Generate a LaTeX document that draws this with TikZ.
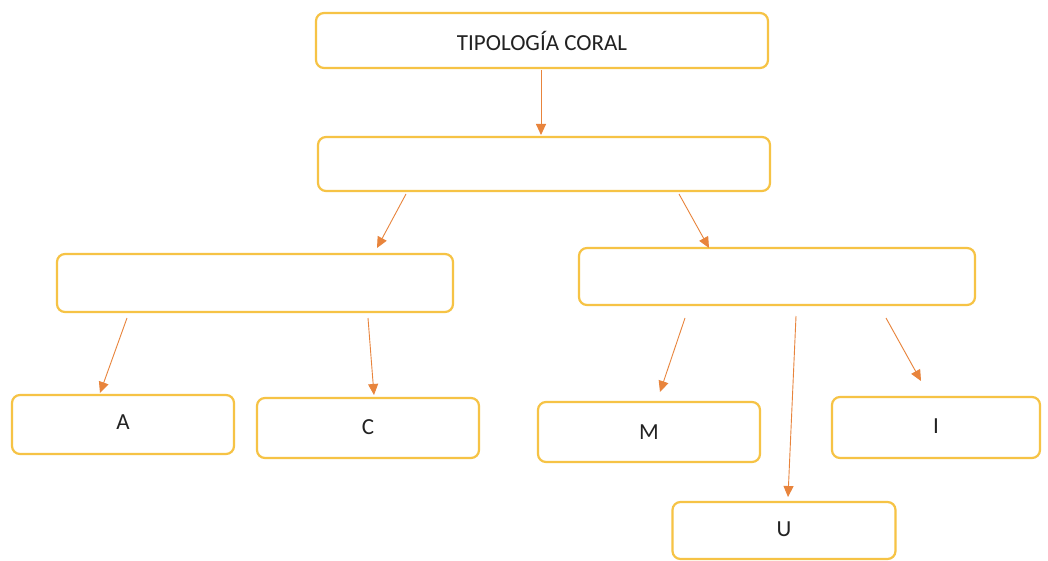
\documentclass[tikz,border=0pt]{standalone}
\usepackage{fontspec}
\setmainfont{Carlito}
\usetikzlibrary{arrows.meta}
\definecolor{boxline}{HTML}{F6C345}
\definecolor{arrowc}{HTML}{E8843C}
\definecolor{txt}{HTML}{222222}
\tikzset{
  box/.style={draw=boxline, line width=2.2pt, rounded corners=8pt, fill=white,
    inner sep=0pt, text=txt, font=\fontsize{23}{26}\selectfont},
  conn/.style={draw=arrowc, line width=0.9pt, -{Triangle[length=11pt,width=10pt]}}
}
\begin{document}
\begin{tikzpicture}[x=1pt,y=-1pt]
\useasboundingbox (0,0) rectangle (1048,561);
\fill[white] (0,0) rectangle (1048,561);
% boxes
\node[box, minimum width=452pt, minimum height=55pt] (top) at (542,40.5) {TIPOLOGÍA CORAL};
\node[box, minimum width=452pt, minimum height=54pt] (second) at (544,164) {};
\node[box, minimum width=396pt, minimum height=58pt] (lmid) at (255,283) {};
\node[box, minimum width=396pt, minimum height=57pt] (rmid) at (777,276.5) {};
\node[box, minimum width=222pt, minimum height=59pt] (a) at (123,424.5) {\raisebox{4pt}{A}};
\node[box, minimum width=222pt, minimum height=60pt] (c) at (368,428) {\raisebox{2pt}{C}};
\node[box, minimum width=222pt, minimum height=60pt] (m) at (649,432) {\raisebox{-2pt}{M}};
\node[box, minimum width=208pt, minimum height=61pt] (i) at (936,427.5) {\raisebox{3pt}{I}};
\node[box, minimum width=223pt, minimum height=57pt] (u) at (784,530.5) {\raisebox{2pt}{U}};
% connector ends
\coordinate (t1) at (541,70);   \coordinate (t2) at (541,135);
\coordinate (sl1) at (406,194); \coordinate (sl2) at (377,248);
\coordinate (sr1) at (679,194); \coordinate (sr2) at (709,248);
\coordinate (la1) at (127,318); \coordinate (la2) at (100,393);
\coordinate (lc1) at (368,318); \coordinate (lc2) at (374,395);
\coordinate (rm1) at (685,318); \coordinate (rm2) at (660,392);
\coordinate (ru1) at (796,316); \coordinate (ru2) at (788,497);
\coordinate (ri1) at (886,318); \coordinate (ri2) at (921,381);
% connectors
\draw[conn] (t1) -- (t2);
\draw[conn] (sl1) -- (sl2);
\draw[conn] (sr1) -- (sr2);
\draw[conn] (la1) -- (la2);
\draw[conn] (lc1) -- (lc2);
\draw[conn] (rm1) -- (rm2);
\draw[conn] (ru1) -- (ru2);
\draw[conn] (ri1) -- (ri2);
\end{tikzpicture}
\end{document}
